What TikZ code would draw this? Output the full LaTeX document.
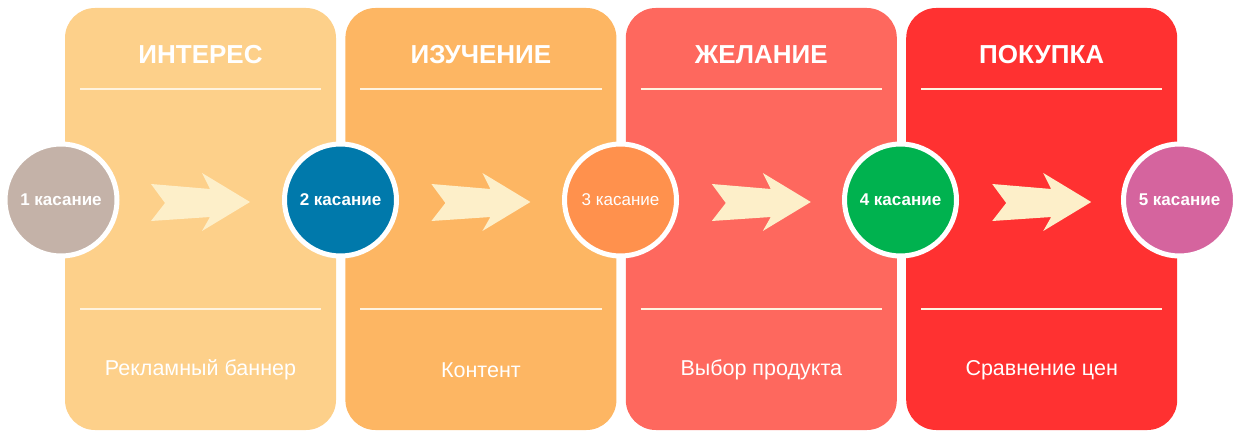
\documentclass[tikz,border=0pt]{standalone}
\usepackage{fontspec}
\setmainfont{Liberation Sans}
\usetikzlibrary{positioning}

\definecolor{panelA}{HTML}{FDD08A}
\definecolor{panelB}{HTML}{FDB663}
\definecolor{panelC}{HTML}{FE685E}
\definecolor{panelD}{HTML}{FF3131}
\definecolor{touchA}{HTML}{C4B2A8}
\definecolor{touchB}{HTML}{0079AB}
\definecolor{touchC}{HTML}{FF914D}
\definecolor{touchD}{HTML}{00B24F}
\definecolor{touchE}{HTML}{D5649E}
\definecolor{arrowFill}{HTML}{FDEFC9}
\definecolor{ruleLine}{HTML}{FFF3DF}

\begin{document}
\begin{tikzpicture}[x=1pt, y=-1pt]
  \tikzset{PanelStyle/.style = {
  shape = rectangle,
  rounded corners = 30pt,
  minimum width = 271pt,
  minimum height = 422pt,
  inner sep = 0pt},
  TouchStyle/.style = {
  shape = circle,
  draw = white,
  line width = 5pt,
  minimum size = 112pt,
  inner sep = 0pt,
  text = white,
  font = \fontsize{17}{20}\selectfont\bfseries},
  TitleStyle/.style = {
  text = white,
  font = \fontsize{26}{30}\selectfont\bfseries},
  NoteStyle/.style = {
  text = white,
  font = \fontsize{21.5}{25}\selectfont},
  RuleStyle/.style = {
  draw = ruleLine,
  line width = 2pt}}
  \useasboundingbox (0,0) rectangle (1241,438);
  % panels
  \node[PanelStyle, fill=panelA] (p1) at (200.5,219) {};
  \node[PanelStyle, fill=panelB, right=9pt of p1] (p2) {};
  \node[PanelStyle, fill=panelC, right=9pt of p2] (p3) {};
  \node[PanelStyle, fill=panelD, right=9pt of p3] (p4) {};
  % titles and notes
  \foreach \p/\title/\note in {p1/ИНТЕРЕС/Рекламный баннер,
                               p2/ИЗУЧЕНИЕ/Контент,
                               p3/ЖЕЛАНИЕ/Выбор продукта,
                               p4/ПОКУПКА/Сравнение цен} {
    \node[TitleStyle] (\p-title) at (\p.center |- 0,55) {\title};
    \node[NoteStyle] (\p-note) at (\p.center |- 0,370) {\note};
    \draw[RuleStyle] ([xshift=15pt]\p.west |- 0,89) -- ([xshift=-15pt]\p.east |- 0,89);
    \draw[RuleStyle] ([xshift=15pt]\p.west |- 0,309) -- ([xshift=-15pt]\p.east |- 0,309);
    \fill[arrowFill, shift={(\p.center |- 0,202)}]
      (-49.5,-18) -- (9.5,-13) -- (1.5,-29) -- (49.5,0) -- (1.5,29)
      -- (9.5,15) -- (-49.5,19) -- (-35.5,1) -- cycle;
  }
  % touch points
  \node[TouchStyle, fill=touchA] (t1) at (61,200) {1 касание};
  \node[TouchStyle, fill=touchB] (t2) at (340.5,200) {2 касание};
  \node[TouchStyle, fill=touchC, font=\fontsize{17}{20}\selectfont] (t3) at (620.5,200) {3 касание};
  \node[TouchStyle, fill=touchD] (t4) at (900.5,200) {4 касание};
  \node[TouchStyle, fill=touchE] (t5) at (1179.5,200) {5 касание};
\end{tikzpicture}
\end{document}
